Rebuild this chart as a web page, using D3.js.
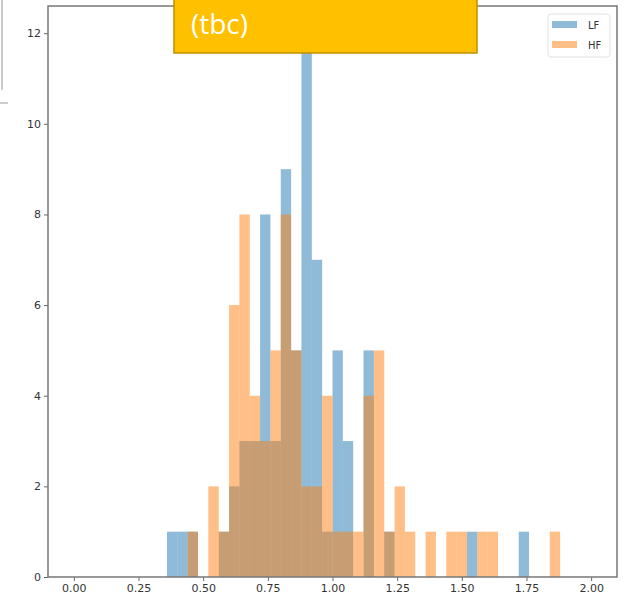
<!DOCTYPE html>
<html>
<head>
<meta charset="utf-8">
<script src="https://cdn.jsdelivr.net/npm/d3@7"></script>
<style>
  body { margin: 0; background: #fff; }
  svg { display: block; }
</style>
</head>
<body>
<div id="chart"></div>
<script>
// histogram bins are 0.04 wide, only the non-empty ones are listed
const BIN_WIDTH = 0.04;
const lfBinStart = [0.36, 0.40, 0.44, 0.56, 0.60, 0.64, 0.68, 0.72, 0.76, 0.80, 0.84, 0.88, 0.92, 0.96, 1.00, 1.04, 1.12, 1.20, 1.52, 1.72];
const lfCounts   = [1, 1, 1, 1, 2, 3, 3, 8, 3, 9, 5, 12, 7, 1, 5, 3, 5, 1, 1, 1];
const hfBinStart = [0.44, 0.52, 0.56, 0.60, 0.64, 0.68, 0.72, 0.76, 0.80, 0.84, 0.88, 0.92, 0.96, 1.00, 1.04, 1.08, 1.12, 1.16, 1.20, 1.24, 1.28, 1.36, 1.44, 1.48, 1.56, 1.60, 1.84];
const hfCounts   = [1, 2, 1, 6, 8, 4, 3, 5, 8, 5, 2, 2, 4, 1, 1, 1, 4, 5, 1, 2, 1, 1, 1, 1, 1, 1, 1];
const xTicks = [0, 0.25, 0.5, 0.75, 1.0, 1.25, 1.5, 1.75, 2.0];
const yTicks = [0, 2, 4, 6, 8, 10, 12];
const seriesNames = ["LF", "HF"];

const WIDTH = 623;
const HEIGHT = 600;
const LEFT = 48, RIGHT = 617, TOP = 6, BOTTOM = 577;
const BLUE = "#1f77b4", ORANGE = "#ff7f0e";

const svg = d3.select("#chart").append("svg")
  .attr("width", WIDTH)
  .attr("height", HEIGHT);

const x = d3.scaleLinear().domain([-0.1, 2.1]).range([LEFT, RIGHT]);
const y = d3.scaleLinear().domain([0, 12.6]).range([BOTTOM, TOP]);

function drawBars(starts, counts, color) {
  svg.append("g")
    .selectAll("rect")
    .data(starts.map((s, i) => ({ x0: s, n: counts[i] })))
    .enter()
    .append("rect")
    .attr("x", d => x(d.x0))
    .attr("width", d => x(d.x0 + BIN_WIDTH) - x(d.x0))
    .attr("y", d => y(d.n))
    .attr("height", d => y(0) - y(d.n))
    .attr("fill", color)
    .attr("fill-opacity", 0.5);
}
drawBars(lfBinStart, lfCounts, BLUE);
drawBars(hfBinStart, hfCounts, ORANGE);

// axes
const xAxis = d3.axisBottom(x).tickValues(xTicks).tickFormat(d3.format(".2f")).tickSize(4).tickPadding(3);
const yAxis = d3.axisLeft(y).tickValues(yTicks).tickFormat(d3.format("d")).tickSize(4).tickPadding(3);

const gx = svg.append("g").attr("transform", `translate(0,${BOTTOM})`).call(xAxis);
const gy = svg.append("g").attr("transform", `translate(${LEFT},0)`).call(yAxis);
[gx, gy].forEach(g => {
  g.select(".domain").remove();
  g.selectAll(".tick line").attr("stroke", "#666");
  g.selectAll(".tick text")
    .attr("fill", "#333")
    .style("font-family", "DejaVu Sans")
    .style("font-size", "11px");
});

// frame
svg.append("rect")
  .attr("x", LEFT).attr("y", TOP)
  .attr("width", RIGHT - LEFT).attr("height", BOTTOM - TOP)
  .attr("fill", "none")
  .attr("stroke", "#777")
  .attr("stroke-width", 1.5);

// legend
const legend = svg.append("g").attr("transform", "translate(548,14)");
legend.append("rect")
  .attr("width", 62).attr("height", 43)
  .attr("rx", 3)
  .attr("fill", "#fff")
  .attr("stroke", "#e2e2e2");
seriesNames.forEach((name, i) => {
  legend.append("rect")
    .attr("x", 4).attr("y", 7 + i * 20)
    .attr("width", 25).attr("height", 7)
    .attr("fill", i === 0 ? BLUE : ORANGE)
    .attr("fill-opacity", 0.5);
  legend.append("text")
    .attr("x", 40).attr("y", 14.5 + i * 20)
    .attr("font-family", "DejaVu Sans")
    .attr("font-size", "10px")
    .attr("fill", "#333")
    .text(name);
});

// slide callout box over the plot
svg.append("rect")
  .attr("x", 174).attr("y", -2)
  .attr("width", 303).attr("height", 55)
  .attr("fill", "#ffc000")
  .attr("stroke", "#bf9000")
  .attr("stroke-width", 1.5);
svg.append("text")
  .attr("x", 191).attr("y", 34)
  .attr("font-family", "Open Sans")
  .attr("font-size", "28px")
  .attr("fill", "#fff")
  .text("(tbc)");

// leftover slide lines at the left edge
svg.append("line").attr("x1", 2).attr("y1", 0).attr("x2", 2).attr("y2", 90)
  .attr("stroke", "#999").attr("stroke-width", 1);
svg.append("line").attr("x1", 0).attr("y1", 103).attr("x2", 8).attr("y2", 103)
  .attr("stroke", "#999").attr("stroke-width", 1);
</script>
</body>
</html>
